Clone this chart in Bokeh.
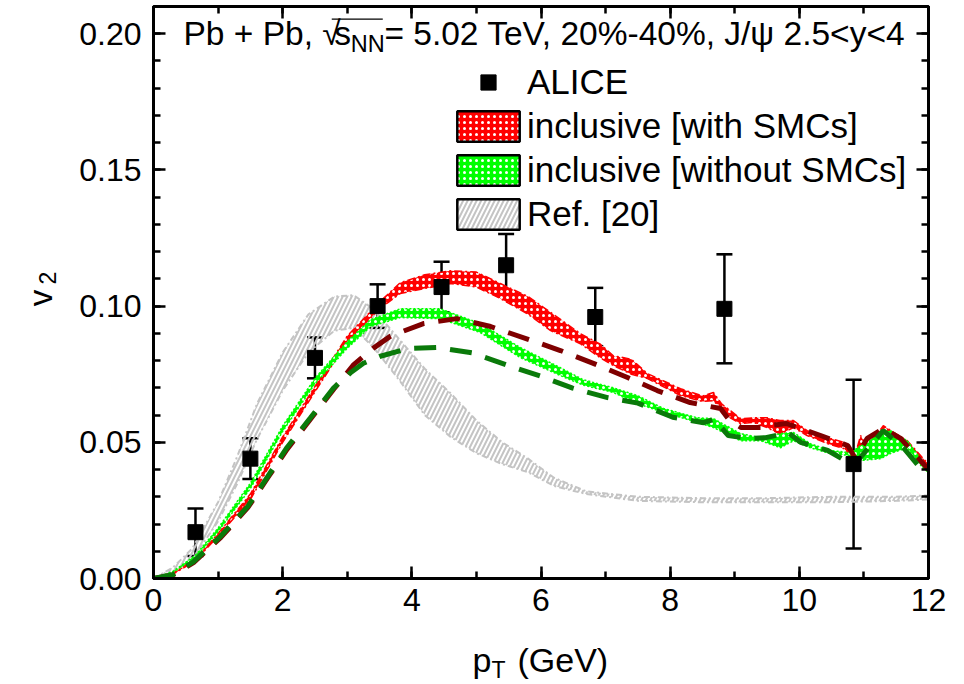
import math
from bokeh.plotting import figure
from bokeh.layouts import row, column
from bokeh.models import (ColumnDataSource, Range1d, LinearAxis, SingleIntervalTicker,
                          NumeralTickFormatter, BasicTickFormatter, Whisker, TeeHead,
                          Legend, LegendItem, Label, BoxAnnotation, CustomLabelingPolicy)
from bokeh.embed import file_html
from bokeh.resources import INLINE

# ---------------- data ----------------
alice_pt = [0.65, 1.5, 2.5, 3.47, 4.46, 5.46, 6.84, 8.84, 10.84]
alice_v2 = [0.017, 0.044, 0.081, 0.100, 0.107, 0.115, 0.096, 0.099, 0.042]
alice_err = [0.0087, 0.0075, 0.0075, 0.008, 0.0093, 0.0115, 0.0107, 0.020, 0.031]

red_pt = [0, 0.3, 0.65, 1.0, 1.5, 2.0, 2.5, 3.0, 3.5, 3.82, 4.2, 4.6, 5.0, 5.37, 5.8,
          6.15, 6.61, 6.92, 7.12, 7.4, 7.65, 8.16, 8.5, 8.67, 8.8, 8.93, 9.09, 9.29, 9.5,
          9.7, 9.91, 10.12, 10.44, 10.69, 10.87, 10.95, 11.05, 11.3, 11.67, 11.92, 12.0]
red_hi = [0, 0.0019, 0.0072, 0.0165, 0.031, 0.052, 0.0705, 0.089, 0.1015, 0.1086, 0.1115,
          0.113, 0.1125, 0.1083, 0.1035, 0.0977, 0.0899, 0.086, 0.0818, 0.0805, 0.0752,
          0.0697, 0.067, 0.0683, 0.064, 0.0617, 0.0587, 0.059, 0.059, 0.058, 0.058, 0.0543,
          0.0517, 0.050, 0.046, 0.0525, 0.048, 0.0561, 0.0506, 0.044, 0.042]
red_lo = [0, 0.0015, 0.0066, 0.0155, 0.029, 0.050, 0.0685, 0.087, 0.099, 0.1046, 0.1065,
          0.1083, 0.107, 0.1028, 0.097, 0.091, 0.0862, 0.081, 0.0782, 0.075, 0.0734, 0.0672,
          0.065, 0.0653, 0.062, 0.059, 0.0569, 0.0573, 0.0554, 0.053, 0.0554, 0.0525, 0.0495,
          0.0477, 0.0433, 0.046, 0.045, 0.0525, 0.0488, 0.0415, 0.040]

green_pt = [0, 0.3, 0.65, 1.0, 1.5, 2.0, 2.5, 3.0, 3.36, 3.82, 4.44, 5.06, 5.68, 6.3, 6.65,
            7.12, 7.49, 7.9, 8.42, 8.67, 9.09, 9.4, 9.71, 9.91, 10.17, 10.48, 10.8, 10.95,
            11.26, 11.41, 11.67, 11.92, 12.0]
green_hi = [0, 0.0026, 0.0085, 0.0185, 0.035, 0.056, 0.0735, 0.087, 0.095, 0.099, 0.099,
            0.0936, 0.0848, 0.0774, 0.073, 0.070, 0.0672, 0.0624, 0.059, 0.0587, 0.0532,
            0.0517, 0.0532, 0.0536, 0.0495, 0.047, 0.0462, 0.0488, 0.0532, 0.0543, 0.0506,
            0.0426, 0.041]
green_lo = [0, 0.0022, 0.0077, 0.0172, 0.033, 0.054, 0.0715, 0.0845, 0.0925, 0.0958, 0.0954,
            0.0903, 0.0811, 0.0745, 0.071, 0.0683, 0.0642, 0.061, 0.0573, 0.0554, 0.0506,
            0.0506, 0.048, 0.0506, 0.048, 0.0459, 0.0451, 0.0433, 0.044, 0.0459, 0.048,
            0.0404, 0.039]

dred_pt = [0, 0.3, 0.62, 1.04, 1.46, 1.77, 2.07, 2.43, 2.79, 3.1, 3.4, 3.67, 4.18, 4.7,
           5.22, 5.79, 6.3, 6.81, 7.34, 7.8, 8.31, 8.78, 8.92, 9.1, 9.4, 9.55, 9.8, 10.05,
           10.33, 10.75, 10.87, 11.05, 11.3, 11.57, 11.9, 12.0]
dred_v2 = [0, 0.0013, 0.0058, 0.0150, 0.0260, 0.0370, 0.0475, 0.0585, 0.0695, 0.0785,
           0.0845, 0.0890, 0.0936, 0.0954, 0.0925, 0.0879, 0.0837, 0.0790, 0.0738, 0.0690,
           0.0646, 0.0624, 0.0580, 0.0554, 0.0554, 0.0562, 0.0569, 0.0548, 0.0525, 0.0488,
           0.0440, 0.0514, 0.0550, 0.0514, 0.0426, 0.0400]

dgreen_pt = [0, 0.3, 0.62, 1.04, 1.46, 1.77, 2.07, 2.43, 2.79, 3.05, 3.25, 3.5, 3.93, 4.4,
             4.94, 5.48, 5.99, 6.49, 7.03, 7.5, 8.04, 8.52, 8.68, 8.9, 9.2, 9.48, 9.83,
             10.02, 10.44, 10.84, 11.1, 11.3, 11.61, 11.88, 12.0]
dgreen_v2 = [0, 0.0014, 0.0062, 0.0155, 0.0265, 0.0375, 0.0482, 0.0590, 0.0700, 0.0755,
             0.0790, 0.0815, 0.0844, 0.0848, 0.0828, 0.0783, 0.0743, 0.0699, 0.0664, 0.0644,
             0.0592, 0.0572, 0.0585, 0.0525, 0.0514, 0.0517, 0.0535, 0.0500, 0.0470, 0.0415,
             0.0488, 0.0543, 0.0480, 0.0404, 0.0395]

grey_pt = [0, 0.3, 0.6, 1.0, 1.3, 1.6, 2.0, 2.4, 2.8, 3.1, 3.4, 3.8, 4.2, 4.6, 5.0, 5.4,
           5.8, 6.2, 6.7, 7.5, 8.5, 9.5, 10.5, 11.5, 12.0]
grey_hi = [0, 0.004, 0.011, 0.028, 0.045, 0.064, 0.083, 0.097, 0.1035, 0.104, 0.099, 0.088,
           0.077, 0.068, 0.058, 0.050, 0.044, 0.037, 0.032, 0.030, 0.0295, 0.0295, 0.030,
           0.030, 0.0305]
grey_lo = [0, 0.002, 0.007, 0.021, 0.035, 0.051, 0.069, 0.083, 0.091, 0.092, 0.085, 0.073,
           0.060, 0.052, 0.046, 0.042, 0.039, 0.034, 0.031, 0.0285, 0.028, 0.028, 0.028,
           0.0285, 0.029]

x_ticks_interval = 2
y_ticks_interval = 0.05

FONT = "Liberation Sans"
INK = "black"

# ---------------- main figure ----------------
p = figure(frame_width=775, frame_height=572, output_backend="svg", toolbar_location=None,
           x_range=Range1d(0, 12), y_range=Range1d(0, 0.21), title=None,
           x_axis_type=None, y_axis_type=None,
           min_border_left=93, min_border_right=36, min_border_top=6, min_border_bottom=54)
p.outline_line_color = "black"
p.outline_line_width = 3
p.background_fill_color = "white"
p.border_fill_color = "white"

hide_all = CustomLabelingPolicy(code="for (const i of indices) { indices.unset(i) } return indices")

def style_axis(ax, show_labels):
    ax.axis_line_width = 3
    ax.axis_line_color = INK
    ax.major_tick_line_color = INK
    ax.minor_tick_line_color = INK
    ax.major_tick_line_width = 2.5
    ax.minor_tick_line_width = 2.5
    ax.major_tick_in = 12
    ax.major_tick_out = 0
    ax.minor_tick_in = 7
    ax.minor_tick_out = 0
    ax.major_label_text_color = INK
    if not show_labels:
        ax.major_label_policy = hide_all
        ax.major_label_text_font_size = "1px"
        ax.major_label_standoff = 0

xt = SingleIntervalTicker(interval=x_ticks_interval, num_minor_ticks=2)
yt = SingleIntervalTicker(interval=y_ticks_interval, num_minor_ticks=5)

xb = LinearAxis(ticker=xt, formatter=BasicTickFormatter())
style_axis(xb, True)
xb.major_label_text_font = FONT
xb.major_label_text_font_size = "32px"
xb.major_label_standoff = 10
p.add_layout(xb, "below")

xa = LinearAxis(ticker=xt)
style_axis(xa, False)
p.add_layout(xa, "above")

yl = LinearAxis(ticker=yt, formatter=NumeralTickFormatter(format="0.00"))
style_axis(yl, True)
yl.major_label_text_font = FONT
yl.major_label_text_font_size = "32px"
yl.major_label_standoff = 12
p.add_layout(yl, "left")

yr = LinearAxis(ticker=yt)
style_axis(yr, False)
p.add_layout(yr, "right")

# ---------------- bands ----------------
grey_src = ColumnDataSource(dict(x=grey_pt, lo=grey_lo, hi=grey_hi))
red_src = ColumnDataSource(dict(x=red_pt, lo=red_lo, hi=red_hi))
green_src = ColumnDataSource(dict(x=green_pt, lo=green_lo, hi=green_hi))

r_grey = p.varea(x="x", y1="lo", y2="hi", source=grey_src, fill_alpha=0,
                 hatch_pattern="/", hatch_color="#c4c4c4", hatch_weight=2, hatch_scale=9)
p.line("x", "hi", source=grey_src, line_color="#c4c4c4", line_width=2, line_dash="6 3 2 3")
p.line("x", "lo", source=grey_src, line_color="#c4c4c4", line_width=2, line_dash="6 3 2 3")

r_red = p.varea(x="x", y1="lo", y2="hi", source=red_src, fill_color="red",
                hatch_pattern="dot", hatch_color="white", hatch_scale=6, hatch_weight=1)
p.line("x", "hi", source=red_src, line_color="red", line_width=1.5, line_dash="8 3 2 3")
p.line("x", "lo", source=red_src, line_color="red", line_width=1.5, line_dash="8 3 2 3")

r_green = p.varea(x="x", y1="lo", y2="hi", source=green_src, fill_color="#00ff00",
                  hatch_pattern="dot", hatch_color="white", hatch_scale=6, hatch_weight=1)
p.line("x", "hi", source=green_src, line_color="#00ff00", line_width=1.5, line_dash="2 2")
p.line("x", "lo", source=green_src, line_color="#00ff00", line_width=1.5, line_dash="2 2")

# ---------------- dashed curves ----------------
p.line(dred_pt, dred_v2, line_color="#7f0000", line_width=5, line_dash="22 14")
p.line(dgreen_pt, dgreen_v2, line_color="#0a7a0a", line_width=5, line_dash="22 14")

# ---------------- ALICE data ----------------
alice_src = ColumnDataSource(dict(x=alice_pt, y=alice_v2,
                                  lower=[v - e for v, e in zip(alice_v2, alice_err)],
                                  upper=[v + e for v, e in zip(alice_v2, alice_err)]))
p.add_layout(Whisker(base="x", lower="lower", upper="upper", source=alice_src,
                     line_width=2.5, line_color="black",
                     upper_head=TeeHead(size=16, line_width=2.5, line_color="black"),
                     lower_head=TeeHead(size=16, line_width=2.5, line_color="black")))
r_alice = p.scatter("x", "y", source=alice_src, marker="square", size=15,
                    fill_color="black", line_color="black")

# outline-only renderers (no visible data) used for the legend frames
nan_src = ColumnDataSource(dict(x=[float("nan")], y=[float("nan")]))
r_boxes = [p.rect("x", "y", width=1, height=1, source=nan_src, fill_alpha=0,
                  line_color="black", line_width=2.5) for _ in range(3)]

legend = Legend(items=[
    LegendItem(label="ALICE", renderers=[r_alice]),
    LegendItem(label="inclusive [with SMCs]", renderers=[r_red, r_boxes[0]]),
    LegendItem(label="inclusive [without SMCs]", renderers=[r_green, r_boxes[1]]),
    LegendItem(label="Ref. [20]", renderers=[r_grey, r_boxes[2]]),
], location=(296, 344))
legend.glyph_width = 78
legend.glyph_height = 38
legend.label_height = 30
legend.spacing = 4
legend.padding = 0
legend.margin = 0
legend.label_standoff = 0
legend.label_text_font = FONT
legend.label_text_font_size = "35px"
legend.label_text_color = INK
legend.border_line_color = None
legend.background_fill_alpha = 0
p.add_layout(legend)

# ---------------- title inside the frame ----------------
TS = "33.5px"
p.add_layout(Label(x=0.4645, y=0.2000, text="Pb + Pb, \u221a", text_font=FONT,
                   text_font_size=TS, text_baseline="middle", text_color=INK))
p.add_layout(Label(x=2.80, y=0.2000, text="s", text_font=FONT,
                   text_font_size=TS, text_baseline="middle", text_color=INK))
p.add_layout(Label(x=3.055, y=0.1961, text="NN", text_font=FONT,
                   text_font_size="23.5px", text_baseline="middle", text_color=INK))
p.add_layout(Label(x=3.575, y=0.2000, text="= 5.02 TeV, 20%-40%, J/\u03c8 2.5<y<4",
                   text_font=FONT, text_font_size=TS, text_baseline="middle", text_color=INK))
p.add_layout(BoxAnnotation(left=2.76, right=3.55, bottom=0.2051, top=0.2056,
                           fill_color="black", fill_alpha=1, line_color=None))

# ---------------- side strips for the axis titles ----------------
def strip(w, h):
    s = figure(width=w, height=h, x_range=Range1d(0, w), y_range=Range1d(0, h),
               x_axis_type=None, y_axis_type=None, toolbar_location=None, title=None,
               output_backend="svg", min_border=0)
    s.outline_line_color = None
    s.background_fill_color = "white"
    s.border_fill_color = "white"
    return s

pl = strip(60, 632)
pl.add_layout(Label(x=40, y=632 - 322, text="v", text_font=FONT, text_font_size="33px",
                    text_align="center", text_baseline="middle", angle=math.pi / 2,
                    text_color=INK))
pl.add_layout(Label(x=47, y=632 - 300, text="2", text_font=FONT, text_font_size="23px",
                    text_align="center", text_baseline="middle", angle=math.pi / 2,
                    text_color=INK))

pb = strip(964, 52)
pb.add_layout(Label(x=472, y=25, text="p", text_font=FONT, text_font_size="34px",
                    text_baseline="middle", text_color=INK))
pb.add_layout(Label(x=491, y=15, text="T", text_font=FONT, text_font_size="23px",
                    text_baseline="middle", text_color=INK))
pb.add_layout(Label(x=517, y=25, text="(GeV)", text_font=FONT, text_font_size="34px",
                    text_baseline="middle", text_color=INK))

layout = column(row(pl, p), pb)
open("out.html", "w").write(file_html(layout, INLINE))
